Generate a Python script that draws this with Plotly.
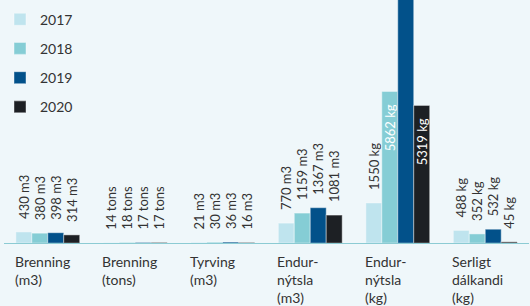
import plotly.graph_objects as go

categories = ["Brenning (m3)", "Brenning (tons)", "Tyrving (m3)",
              "Endurnýtsla (m3)", "Endurnýtsla (kg)", "Serligt dálkandi (kg)"]
category_labels = ["Brenning<br>(m3)", "Brenning<br>(tons)", "Tyrving<br>(m3)",
                   "Endur-<br>nýtsla<br>(m3)", "Endur-<br>nýtsla<br>(kg)",
                   "Serligt<br>dálkandi<br>(kg)"]
units = ["m3", "tons", "m3", "m3", "kg", "kg"]
years = ["2017", "2018", "2019", "2020"]
v2017 = [430, 14, 21, 770, 1550, 488]
v2018 = [380, 18, 30, 1159, 5862, 352]
v2019 = [398, 17, 36, 1367, 11000, 532]
v2020 = [314, 17, 16, 1081, 5319, 45]
series = [v2017, v2018, v2019, v2020]
colors = ["#bfe4ee", "#85cdd5", "#02518a", "#1d2024"]

BG = "#eff7fa"
PAD = "\u00a0" * 3
Y_MAX = 9400

fig = go.Figure()
for yr, vals, col in zip(years, series, colors):
    texts, pos = [], []
    for v, u in zip(vals, units):
        if 3000 < v <= Y_MAX:
            texts.append(f"{v} {u}{PAD}")
            pos.append("inside")
        else:
            texts.append(f"{PAD}{v} {u}")
            pos.append("outside")
    fig.add_trace(go.Bar(
        x=categories, y=vals, name=yr, legendgroup=yr,
        marker=dict(color=col, line=dict(color="rgba(255,255,255,0.35)", width=1.2)),
        text=texts, textposition=pos, textangle=-90,
        insidetextanchor="end", constraintext="none",
        insidetextfont=dict(color="white", size=13, family="Lato"),
        outsidetextfont=dict(color="#333333", size=13, family="Lato"),
        cliponaxis=True, hoverinfo="skip",
    ))

for cat, lab in zip(categories, category_labels):
    fig.add_annotation(x=cat, xref="x", y=0, yref="paper", text=lab,
                       xanchor="left", yanchor="top", align="left",
                       xshift=-35, yshift=-8, showarrow=False,
                       font=dict(family="Lato", size=14, color="#333333"))

fig.update_layout(
    width=530, height=306,
    margin=dict(l=3, r=1, t=0, b=63),
    paper_bgcolor=BG, plot_bgcolor=BG,
    barmode="group", bargap=0.27, bargroupgap=0,
    font=dict(family="Lato", size=14, color="#333333"),
    showlegend=True,
    legend=dict(x=-0.008, y=0.985, xanchor="left", yanchor="top",
                bgcolor="rgba(0,0,0,0)", tracegroupgap=8,
                font=dict(family="Lato", size=14, color="#333333")),
    xaxis=dict(showticklabels=False, showgrid=False, zeroline=False,
               showline=True, linecolor="#8ccbd3", linewidth=1, ticks=""),
    yaxis=dict(range=[0, Y_MAX], visible=False, showgrid=False, zeroline=False),
)

fig.write_html("out.html", config={"displayModeBar": False},
               post_script="document.body.style.margin='0';document.body.style.background='" + BG + "';")
